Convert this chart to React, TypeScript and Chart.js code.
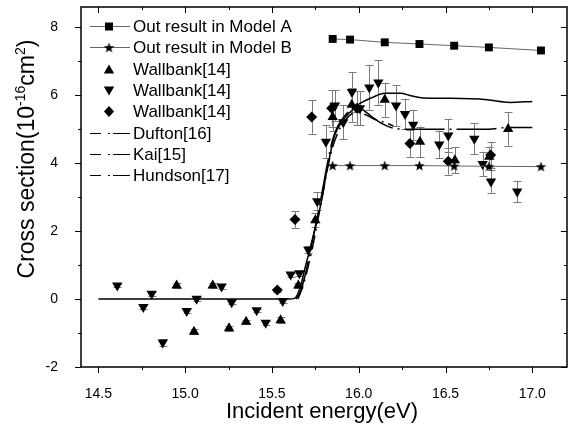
import { useEffect, useRef } from "react";
import { Chart, registerables } from "chart.js";

Chart.register(...registerables);

const FONT = "'Liberation Sans', Arial, sans-serif";

const X_MIN = 14.4;
const X_MAX = 17.2;
const Y_MIN = -2;
const Y_MAX = 8.6;
const xTickValues = [14.5, 15.0, 15.5, 16.0, 16.5, 17.0];
const xMinorTicks = [14.75, 15.25, 15.75, 16.25, 16.75];
const yTickValues = [-2, 0, 2, 4, 6, 8];
const yMinorTicks = [-1, 1, 3, 5, 7];

const xTitle = "Incident energy(eV)";

// Model results
const modelX = [15.85, 15.95, 16.15, 16.35, 16.55, 16.75, 17.05];
const modelA = [7.66, 7.64, 7.56, 7.51, 7.46, 7.41, 7.32];
const modelB = [3.93, 3.93, 3.93, 3.93, 3.92, 3.91, 3.9];

// Wallbank (up triangles)
const upX = [14.951, 15.051, 15.159, 15.253, 15.351, 15.55, 15.652, 15.75, 15.85, 15.96, 16.15, 16.353, 16.554, 16.752, 16.861];
const upY = [0.4, -0.96, 0.4, -0.86, -0.67, -0.62, 0.4, 2.32, 5.36, 5.72, 5.87, 4.63, 4.09, 4.19, 5.01];
const upErr = [0.06, 0.08, 0.06, 0.08, 0.06, 0.08, 0.08, 0.2, 0.4, 0.5, 0.5, 0.45, 0.38, 0.3, 0.49];

// Wallbank (down triangles)
const downX = [14.609, 14.759, 14.807, 14.871, 15.009, 15.066, 15.21, 15.268, 15.412, 15.464, 15.562, 15.608, 15.658, 15.71, 15.761, 15.811, 15.863, 15.911, 15.961, 16.007, 16.061, 16.113, 16.215, 16.267, 16.314, 16.464, 16.516, 16.666, 16.714, 16.762, 16.913];
const downY = [0.4, -0.23, 0.16, -1.28, -0.35, 0.01, 0.37, -0.09, -0.33, -0.7, -0.06, 0.72, 0.76, 1.45, 2.88, 4.63, 5.7, 5.21, 6.1, 5.62, 6.23, 6.38, 5.7, 5.45, 5.13, 4.55, 4.82, 4.72, 3.98, 3.46, 3.17];
const downErr = [0.05, 0.05, 0.06, 0.1, 0.05, 0.06, 0.06, 0.05, 0.05, 0.05, 0.05, 0.06, 0.08, 0.1, 0.27, 0.49, 0.45, 0.51, 0.58, 0.5, 0.67, 0.66, 0.6, 0.45, 0.45, 0.41, 0.49, 0.46, 0.36, 0.33, 0.31];

// Wallbank (diamonds)
const diaX = [15.531, 15.633, 15.729, 15.844, 15.99, 16.295, 16.516, 16.76];
const diaY = [0.27, 2.34, 5.36, 5.62, 5.62, 4.58, 4.06, 4.24];
const diaErr = [0.05, 0.24, 0.49, 0.54, 0.5, 0.39, 0.4, 0.38];

// Theory curves
const duftonX = [14.5, 15.6, 15.63, 15.66, 15.69, 15.72, 15.76, 15.79, 15.815, 15.835, 15.86, 15.9, 15.95, 15.99, 16.08, 16.15, 16.24, 16.3, 16.37, 16.53, 16.74, 16.87, 17.0];
const duftonY = [0, 0, 0.02, 0.3, 0.9, 1.5, 2.3, 3.0, 3.75, 4.25, 4.8, 5.2, 5.5, 5.7, 5.94, 6.06, 6.06, 5.99, 5.92, 5.91, 5.87, 5.79, 5.82];
const kaiX = [15.64, 15.67, 15.7, 15.74, 15.78, 15.82, 15.85, 15.88, 15.92, 15.96, 15.99, 16.03, 16.08, 16.14, 16.2, 16.3, 16.5, 16.75, 16.85, 17.0];
const kaiY = [0, 0.3, 0.9, 1.9, 2.9, 4.0, 4.7, 5.1, 5.4, 5.6, 5.65, 5.55, 5.35, 5.15, 5.03, 5.0, 5.0, 5.0, 5.05, 5.05];
const hundsonX = [15.65, 15.68, 15.72, 15.76, 15.8, 15.84, 15.88, 15.92, 15.96, 16.0, 16.05, 16.1, 16.15, 16.2];
const hundsonY = [0, 0.4, 1.2, 2.2, 3.3, 4.3, 4.9, 5.25, 5.45, 5.5, 5.4, 5.28, 5.2, 5.1];

const legendLabels = [
  "Out result in Model A",
  "Out result in Model B",
  "Wallbank[14]",
  "Wallbank[14]",
  "Wallbank[14]",
  "Dufton[16]",
  "Kai[15]",
  "Hundson[17]",
];

const pts = (xs: number[], ys: number[]) => xs.map((x, i) => ({ x, y: ys[i] }));

function makeStar(outer: number, inner: number) {
  const size = Math.ceil(outer * 2 + 2);
  const c = document.createElement("canvas");
  c.width = size;
  c.height = size;
  const ctx = c.getContext("2d")!;
  const cx = size / 2;
  const cy = size / 2 + 0.5;
  ctx.beginPath();
  for (let i = 0; i < 10; i++) {
    const r = i % 2 === 0 ? outer : inner;
    const a = -Math.PI / 2 + (i * Math.PI) / 5;
    const px = cx + r * Math.cos(a);
    const py = cy + r * Math.sin(a);
    if (i === 0) ctx.moveTo(px, py);
    else ctx.lineTo(px, py);
  }
  ctx.closePath();
  ctx.fillStyle = "#000";
  ctx.fill();
  return c;
}

export default function App() {
  const ref = useRef<HTMLCanvasElement | null>(null);

  useEffect(() => {
    const canvas = ref.current;
    if (!canvas) return;
    const star = makeStar(5.5, 2.3);
    const errMap: Record<number, number[]> = { 2: upErr, 3: downErr, 4: diaErr };

    const errorBars = {
      id: "errorBars",
      beforeDatasetsDraw(chart: any) {
        const ctx = chart.ctx;
        const xs = chart.scales.x;
        const ys = chart.scales.y;
        ctx.save();
        ctx.strokeStyle = "#7a7a7a";
        ctx.lineWidth = 1;
        Object.keys(errMap).forEach((k) => {
          const di = Number(k);
          const ds = chart.data.datasets[di];
          const errs = errMap[di];
          ds.data.forEach((p: any, i: number) => {
            const e = errs[i];
            const px = Math.round(xs.getPixelForValue(p.x)) + 0.5;
            const top = ys.getPixelForValue(p.y + e);
            const bot = ys.getPixelForValue(p.y - e);
            ctx.beginPath();
            ctx.moveTo(px, top);
            ctx.lineTo(px, bot);
            ctx.moveTo(px - 4, Math.round(top) + 0.5);
            ctx.lineTo(px + 4, Math.round(top) + 0.5);
            ctx.moveTo(px - 4, Math.round(bot) + 0.5);
            ctx.lineTo(px + 4, Math.round(bot) + 0.5);
            ctx.stroke();
          });
        });
        ctx.restore();
      },
    };

    const decor = {
      id: "decor",
      afterDraw(chart: any) {
        const ctx = chart.ctx;
        const a = chart.chartArea;
        const xs = chart.scales.x;
        const ys = chart.scales.y;
        ctx.save();
        // frame
        ctx.strokeStyle = "#000";
        ctx.lineWidth = 1.5;
        ctx.strokeRect(a.left, a.top, a.right - a.left, a.bottom - a.top);
        ctx.lineWidth = 1;
        ctx.beginPath();
        const xt = (v: number, len: number) => {
          const px = Math.round(xs.getPixelForValue(v)) + 0.5;
          ctx.moveTo(px, a.bottom);
          ctx.lineTo(px, a.bottom + len);
          ctx.moveTo(px, a.top);
          ctx.lineTo(px, a.top + len);
        };
        const yt = (v: number, len: number) => {
          const py = Math.round(ys.getPixelForValue(v)) + 0.5;
          ctx.moveTo(a.left, py);
          ctx.lineTo(a.left - len, py);
          ctx.moveTo(a.right, py);
          ctx.lineTo(a.right - len, py);
        };
        xTickValues.forEach((v) => xt(v, 6));
        xMinorTicks.forEach((v) => xt(v, 3));
        yTickValues.forEach((v) => yt(v, 6));
        yMinorTicks.forEach((v) => yt(v, 3));
        ctx.stroke();

        // legend
        const lx0 = a.left + 9;
        const lx1 = a.left + 49;
        const mx = a.left + 28;
        const tx = a.left + 52;
        let ly = 26;
        const step = 21.3;
        ctx.font = `17px ${FONT}`;
        ctx.textBaseline = "middle";
        ctx.textAlign = "left";
        ctx.fillStyle = "#000";
        for (let i = 0; i < legendLabels.length; i++) {
          const y = Math.round(ly + i * step) + 0.5;
          ctx.strokeStyle = "#666";
          ctx.lineWidth = 1;
          if (i < 2) {
            ctx.beginPath();
            ctx.moveTo(lx0, y);
            ctx.lineTo(lx1, y);
            ctx.stroke();
            if (i === 0) {
              ctx.fillRect(mx - 4, y - 4, 8, 8);
            } else {
              ctx.drawImage(star, mx - star.width / 2, y - star.height / 2);
            }
          } else if (i < 5) {
            ctx.beginPath();
            if (i === 2) {
              ctx.moveTo(mx, y - 5);
              ctx.lineTo(mx + 5.2, y + 4);
              ctx.lineTo(mx - 5.2, y + 4);
            } else if (i === 3) {
              ctx.moveTo(mx, y + 5);
              ctx.lineTo(mx + 5.2, y - 4);
              ctx.lineTo(mx - 5.2, y - 4);
            } else {
              ctx.moveTo(mx, y - 5.5);
              ctx.lineTo(mx + 5, y);
              ctx.lineTo(mx, y + 5.5);
              ctx.lineTo(mx - 5, y);
            }
            ctx.closePath();
            ctx.fill();
          } else {
            ctx.strokeStyle = "#000";
            ctx.beginPath();
            ctx.moveTo(lx0, y);
            ctx.lineTo(lx0 + 11, y);
            ctx.moveTo(mx - 1, y);
            ctx.lineTo(mx + 1, y);
            ctx.moveTo(mx + 4, y);
            ctx.lineTo(lx1, y);
            ctx.stroke();
          }
          ctx.fillStyle = "#000";
          ctx.fillText(legendLabels[i], tx, y + 1);
        }

        // x title
        ctx.font = `22px ${FONT}`;
        ctx.textAlign = "center";
        ctx.textBaseline = "alphabetic";
        ctx.fillText(xTitle, 322, 418);

        // y title with superscripts
        const parts = [
          { t: "Cross section(10", s: false },
          { t: "-16", s: true },
          { t: "cm", s: false },
          { t: "2", s: true },
          { t: ")", s: false },
        ];
        const big = `23px ${FONT}`;
        const small = `14px ${FONT}`;
        let total = 0;
        parts.forEach((p) => {
          ctx.font = p.s ? small : big;
          total += ctx.measureText(p.t).width;
        });
        ctx.translate(34, 159);
        ctx.rotate(-Math.PI / 2);
        ctx.textAlign = "left";
        let cx = -total / 2;
        parts.forEach((p) => {
          ctx.font = p.s ? small : big;
          ctx.fillText(p.t, cx, p.s ? -9 : 0);
          cx += ctx.measureText(p.t).width;
        });
        ctx.restore();
      },
    };

    const chart = new Chart(canvas, {
      type: "scatter",
      data: {
        datasets: [
          {
            label: legendLabels[0],
            data: pts(modelX, modelA),
            showLine: true,
            borderColor: "#666",
            borderWidth: 1,
            pointStyle: "rect",
            pointRadius: 5.6,
            pointBackgroundColor: "#000",
            pointBorderColor: "#000",
            pointBorderWidth: 0,
          },
          {
            label: legendLabels[1],
            data: pts(modelX, modelB),
            showLine: true,
            borderColor: "#666",
            borderWidth: 1,
            pointStyle: star,
            pointRadius: 6,
            pointBackgroundColor: "#000",
            pointBorderColor: "#000",
          },
          {
            label: legendLabels[2],
            data: pts(upX, upY),
            showLine: false,
            pointStyle: "triangle",
            pointRadius: 6,
            pointBackgroundColor: "#000",
            pointBorderColor: "#000",
            pointBorderWidth: 0,
          },
          {
            label: legendLabels[3],
            data: pts(downX, downY),
            showLine: false,
            pointStyle: "triangle",
            rotation: 180,
            pointRadius: 6,
            pointBackgroundColor: "#000",
            pointBorderColor: "#000",
            pointBorderWidth: 0,
          },
          {
            label: legendLabels[4],
            data: pts(diaX, diaY),
            showLine: false,
            pointStyle: "rectRot",
            pointRadius: 5.5,
            pointBackgroundColor: "#000",
            pointBorderColor: "#000",
            pointBorderWidth: 0,
          },
          {
            label: legendLabels[5],
            data: pts(duftonX, duftonY),
            showLine: true,
            borderColor: "#000",
            borderWidth: 1.5,
            pointRadius: 0,
            cubicInterpolationMode: "monotone",
          },
          {
            label: legendLabels[6],
            data: pts(kaiX, kaiY),
            showLine: true,
            borderColor: "#000",
            borderWidth: 1.5,
            borderDash: [40, 5, 2, 5],
            pointRadius: 0,
            cubicInterpolationMode: "monotone",
          },
          {
            label: legendLabels[7],
            data: pts(hundsonX, hundsonY),
            showLine: true,
            borderColor: "#000",
            borderWidth: 1.5,
            borderDash: [14, 5, 2, 5],
            pointRadius: 0,
            cubicInterpolationMode: "monotone",
          },
        ],
      } as any,
      options: {
        animation: false,
        responsive: false,
        devicePixelRatio: 1,
        layout: { padding: { left: 0, top: 4, right: 14, bottom: 0 } },
        plugins: { legend: { display: false }, tooltip: { enabled: false }, title: { display: false } },
        scales: {
          x: {
            type: "linear",
            min: X_MIN,
            max: X_MAX,
            grid: { display: false },
            border: { display: false },
            afterBuildTicks: (s: any) => {
              s.ticks = xTickValues.map((v) => ({ value: v }));
            },
            afterFit: (s: any) => {
              s.height = 68;
              s.paddingLeft = 0;
              s.paddingRight = 0;
            },
            ticks: {
              padding: 11,
              maxRotation: 0,
              autoSkip: false,
              color: "#000",
              font: { family: FONT, size: 14 },
              callback: (v: any) => Number(v).toFixed(1),
            },
          },
          y: {
            type: "linear",
            min: Y_MIN,
            max: Y_MAX,
            grid: { display: false },
            border: { display: false },
            afterBuildTicks: (s: any) => {
              s.ticks = yTickValues.map((v) => ({ value: v }));
            },
            afterFit: (s: any) => {
              s.width = 81;
              s.paddingTop = 0;
              s.paddingBottom = 0;
            },
            ticks: {
              padding: 15,
              autoSkip: false,
              color: "#000",
              font: { family: FONT, size: 14 },
              callback: (v: any) => String(v),
            },
          },
        },
      } as any,
      plugins: [errorBars, decor],
    });
    return () => chart.destroy();
  }, []);

  return (
    <div style={{ position: "fixed", left: 0, top: 0, width: 581, height: 435, background: "#fff" }}>
      <canvas ref={ref} width={581} height={435} style={{ width: 581, height: 435, display: "block" }} />
    </div>
  );
}
